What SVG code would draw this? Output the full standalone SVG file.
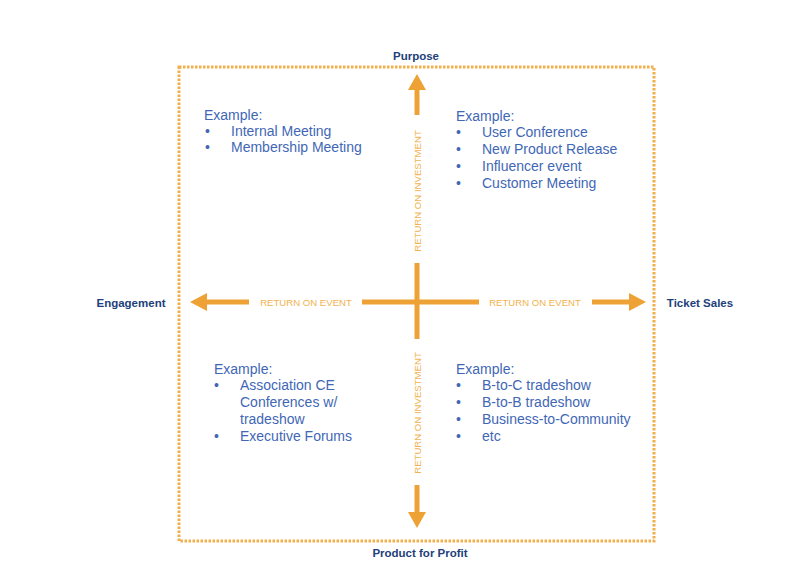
<svg xmlns="http://www.w3.org/2000/svg" width="806" height="587" viewBox="0 0 806 587">
<style>
.ax{font-family:"Liberation Sans",Arial,sans-serif;font-weight:bold;font-size:11.5px;fill:#1e3f7a}
.ex{font-family:"Liberation Sans",Arial,sans-serif;font-size:14px;fill:#3f67b5}
.al{font-family:"Liberation Sans",Arial,sans-serif;font-size:9.6px;fill:#f2b24f}
.sh{stroke:#eea235;stroke-width:5;fill:none}
.hd{fill:#eea235}
</style>
<rect width="806" height="587" fill="#ffffff"/>
<rect x="179" y="67" width="475" height="474" fill="none" stroke="#f1b04c" stroke-width="3" stroke-dasharray="2.5 1.5"/>
<g id="connectors">
<path class="sh" d="M417 263V339M362 302H479"/>
<path class="sh" d="M249 302H205"/><polygon class="hd" points="190,302 207,293 207,311"/>
<path class="sh" d="M592 302H631"/><polygon class="hd" points="646,302 629,293 629,311"/>
<path class="sh" d="M417 115V88"/><polygon class="hd" points="417,74 408,90 426,90"/>
<path class="sh" d="M417 485V513"/><polygon class="hd" points="417,528 408,512 426,512"/>
<text class="al" x="306" y="305.5" text-anchor="middle">RETURN ON EVENT</text>
<text class="al" x="535" y="305.5" text-anchor="middle">RETURN ON EVENT</text>
<text class="al" transform="translate(420.5,191) rotate(-90)" text-anchor="middle">RETURN ON INVESTMENT</text>
<text class="al" transform="translate(420.5,413) rotate(-90)" text-anchor="middle">RETURN ON INVESTMENT</text>
</g>
<g id="purpose"><text class="ax" x="416" y="59.5" text-anchor="middle">Purpose</text></g>
<g id="engagement"><text class="ax" x="131" y="307" text-anchor="middle">Engagement</text></g>
<g id="ticket-sales"><text class="ax" x="700" y="307" text-anchor="middle">Ticket Sales</text></g>
<g id="product-for-profit"><text class="ax" x="420" y="557" text-anchor="middle">Product for Profit</text></g>
<g id="q-top-left" class="ex">
<text x="204" y="120">Example:</text>
<text x="205" y="136">•</text><text x="231" y="136">Internal Meeting</text>
<text x="205" y="152">•</text><text x="231" y="152">Membership Meeting</text>
</g>
<g id="q-top-right" class="ex">
<text x="456" y="121">Example:</text>
<text x="456" y="137">•</text><text x="482" y="137">User Conference</text>
<text x="456" y="154">•</text><text x="482" y="154">New Product Release</text>
<text x="456" y="171">•</text><text x="482" y="171">Influencer event</text>
<text x="456" y="188">•</text><text x="482" y="188">Customer Meeting</text>
</g>
<g id="q-bottom-left" class="ex">
<text x="214" y="374">Example:</text>
<text x="214" y="390">•</text><text x="240" y="390">Association CE</text>
<text x="240" y="407">Conferences w/</text>
<text x="240" y="424">tradeshow</text>
<text x="214" y="441">•</text><text x="240" y="441">Executive Forums</text>
</g>
<g id="q-bottom-right" class="ex">
<text x="456" y="374">Example:</text>
<text x="456" y="390">•</text><text x="482" y="390">B-to-C tradeshow</text>
<text x="456" y="407">•</text><text x="482" y="407">B-to-B tradeshow</text>
<text x="456" y="424">•</text><text x="482" y="424">Business-to-Community</text>
<text x="456" y="441">•</text><text x="482" y="441">etc</text>
</g>
</svg>
